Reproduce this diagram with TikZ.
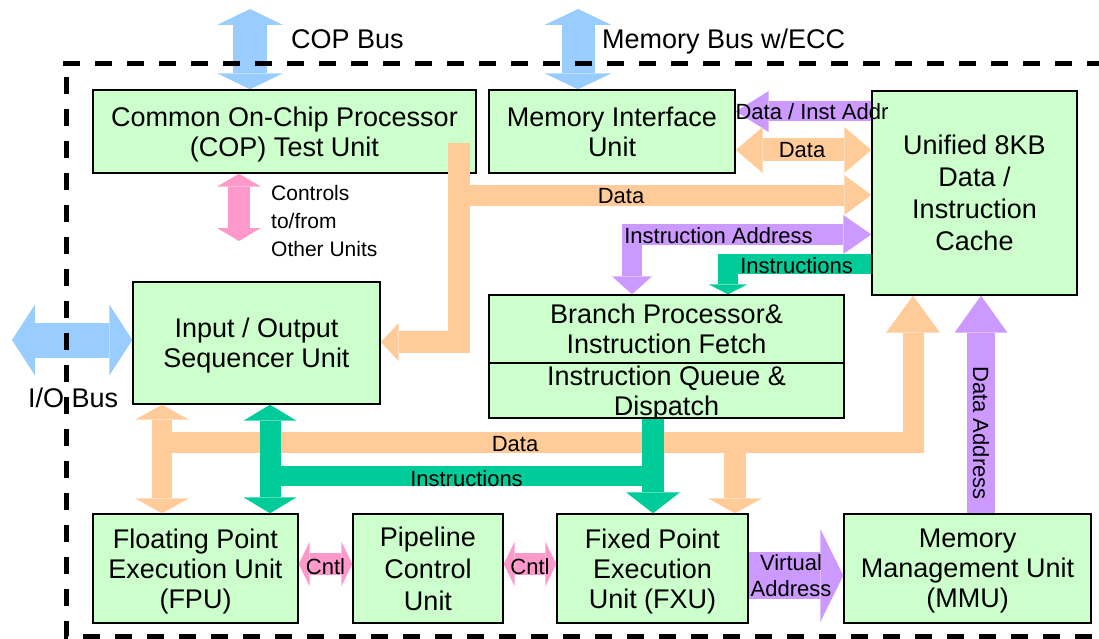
\documentclass[tikz,border=0pt]{standalone}
\usepackage{fontspec}
\setmainfont{Liberation Sans}
\usetikzlibrary{arrows.meta,calc}
\definecolor{boxfill}{HTML}{CCFFCC}
\definecolor{busblue}{HTML}{99CCFF}
\definecolor{busorange}{HTML}{FFCC99}
\definecolor{buspurple}{HTML}{CC99FF}
\definecolor{busgreen}{HTML}{00CC99}
\definecolor{buspink}{HTML}{FF99CC}

\begin{document}
\begin{tikzpicture}[x=1pt,y=-1pt,
  unit/.style={draw=black, line width=1.4pt, fill=boxfill, align=center,
    inner sep=0pt, text depth=0pt, font=\fontsize{27}{30}\selectfont},
  lbl/.style={font=\fontsize{22}{27}\selectfont, inner sep=0pt, align=center},
  buslbl/.style={font=\fontsize{27}{30}\selectfont, inner sep=0pt},
  fatone/.style n args={3}{line width=#1, line join=miter,
    -{Triangle[width=#2,length=#3,line width=0pt]}},
  fattwo/.style n args={3}{line width=#1, line join=miter,
    {Triangle[width=#2,length=#3,line width=0pt]}-{Triangle[width=#2,length=#3,line width=0pt]}},
  frame/.style={line width=5pt, dash pattern=on 17pt off 15pt}
]
\useasboundingbox (0,0) rectangle (1099,639);

% functional units
\node[unit, minimum width=383pt, minimum height=83pt] (cop) at (284.5,131.5)
  {Common On-Chip Processor\\(COP) Test Unit};
\node[unit, minimum width=246pt, minimum height=83pt] (miu) at (612,131.5)
  {Memory Interface\\Unit};
\node[unit, minimum width=205pt, minimum height=204pt,
  font=\fontsize{27}{32}\selectfont] (cache) at (974.5,193)
  {Unified 8KB\\Data /\\Instruction\\Cache};
\node[unit, minimum width=247pt, minimum height=122pt] (ios) at (256.5,343)
  {Input / Output\\Sequencer Unit};
\node[unit, minimum width=355pt, minimum height=68pt] (bpf) at (666.5,329)
  {Branch Processor\&\\Instruction Fetch};
\node[unit, minimum width=355pt, minimum height=55pt] (iqd) at (666.5,390.5)
  {Instruction Queue \&\\Dispatch};
\node[unit, minimum width=205pt, minimum height=109pt] (fpu) at (195.5,568.5)
  {Floating Point\\Execution Unit\\(FPU)};
\node[unit, minimum width=150pt, minimum height=109pt,
  font=\fontsize{27}{32}\selectfont] (pcu) at (428,568.5)
  {Pipeline\\Control\\Unit};
\node[unit, minimum width=191pt, minimum height=109pt] (fxu) at (652.5,568.5)
  {Fixed Point\\Execution\\Unit (FXU)};
\node[unit, minimum width=247pt, minimum height=109pt] (mmu) at (967.5,568.5)
  {Memory\\Management Unit\\(MMU)};

% routing points
\coordinate (copbus) at (250,9);
\coordinate (membus) at (578,9);
\coordinate (iobus) at (12,340);
\coordinate (ctl) at (239,241);
\coordinate (copdata) at (459,143);
\coordinate (iorow) at (0,342);
\coordinate (dtop) at (459,195);
\coordinate (arow) at (0,111.5);
\coordinate (mrow) at (0,150);
\coordinate (iar) at (632,234.5);
\coordinate (ir) at (728,264);
\coordinate (dbx) at (162,442);
\coordinate (dbr) at (913,442);
\coordinate (dfx) at (735,442);
\coordinate (ibx) at (270,476);
\coordinate (ibr) at (653,476);
\coordinate (cntl) at (0,564);
\coordinate (vrow) at (0,575.5);
\coordinate (dax) at (981,0);

% external buses
\draw[busblue, fattwo={34pt}{66pt}{16pt}] (copbus) -- (copbus |- cop.north);
\draw[busblue, fattwo={33pt}{67pt}{16pt}] (membus) -- (membus |- miu.north);
\draw[busblue, fattwo={35pt}{71pt}{23pt}] (iobus) -- (iobus -| ios.west);

% COP control
\draw[buspink, fattwo={22pt}{44pt}{13pt}] (ctl |- cop.south) -- (ctl);

% COP data paths
\draw[busorange, fatone={22pt}{38pt}{18pt}] (copdata) -- (copdata |- iorow) -- (iorow -| ios.east);
\draw[busorange, fatone={21pt}{40pt}{27pt}] (dtop) -- (dtop -| cache.west);

% memory interface to cache
\draw[buspurple, fatone={20pt}{41pt}{33pt}] (arow -| cache.west) -- (arow -| miu.east);
\draw[busorange, fattwo={23pt}{46pt}{27pt}] (mrow -| miu.east) -- (mrow -| cache.west);

% cache to branch unit
\draw[buspurple, line width=20.5pt, line join=miter,
  {Triangle[width=40pt,length=18pt,line width=0pt]}-{Triangle[width=39pt,length=28pt,line width=0pt]}]
  (iar |- bpf.north) -- (iar) -- (iar -| cache.west);
\draw[busgreen, fatone={20pt}{39pt}{10pt}] (ir -| cache.west) -- (ir) -- (ir |- bpf.north);

% internal data bus
\draw[busorange, fattwo={20pt}{54pt}{15pt}] (dbx |- ios.south) -- (dbx |- fpu.north);
\draw[busorange, fatone={21pt}{54pt}{37pt}] (dbx) -- (dbr) -- (dbr |- cache.south);
\draw[busorange, fatone={22pt}{54pt}{15pt}] (dfx) -- (dfx |- fxu.north);

% internal instruction bus
\draw[busgreen, fattwo={21pt}{53pt}{16pt}] (ibx |- ios.south) -- (ibx |- fpu.north);
\draw[busgreen, line width=20pt] (ibx) -- (ibr);
\draw[busgreen, fatone={22pt}{54pt}{21pt}] (ibr |- iqd.south) -- (ibr |- fxu.north);

% pipeline control
\draw[buspink, fattwo={22pt}{45pt}{11pt}] (cntl -| fpu.east) -- (cntl -| pcu.west);
\draw[buspink, fattwo={22pt}{45pt}{11pt}] (cntl -| pcu.east) -- (cntl -| fxu.west);

% address translation
\draw[buspurple, fatone={47pt}{93pt}{23pt}] (vrow -| fxu.east) -- (vrow -| mmu.west);
\draw[buspurple, fatone={28pt}{53pt}{37pt}] (dax |- mmu.north) -- (dax |- cache.south);

% bus labels
\node[buslbl, anchor=base west] (copbuslbl) at (291,49) {COP Bus};
\node[buslbl, anchor=base west] (membuslbl) at (602,49) {Memory Bus w/ECC};
\node[buslbl, anchor=base west] (iobuslbl) at (28,407) {I/O Bus};
\node[lbl, anchor=west, align=left, font=\fontsize{21}{28}\selectfont] (ctllbl) at (271,220.5)
  {Controls\\to/from\\Other Units};
\node[lbl, anchor=base] (addrlbl) at (812,120) {Data / Inst Addr};
\node[lbl, anchor=base] (mdatalbl) at (802,158) {Data};
\node[lbl, anchor=base] (cdatalbl) at (621,204) {Data};
\node[lbl, anchor=base] (iarlbl) at (718.5,243) {Instruction Address};
\node[lbl, anchor=base] (irlbl) at (796.5,273) {Instructions};
\node[lbl, anchor=base] (dbuslbl) at (515,451) {Data};
\node[lbl, anchor=base] (ibuslbl) at (466.5,486) {Instructions};
\node[lbl, anchor=base] (cntl1lbl) at (325.5,574) {Cntl};
\node[lbl, anchor=base] (cntl2lbl) at (530,574) {Cntl};
\node[lbl, font=\fontsize{22}{26}\selectfont] (valbl) at (791,576) {Virtual\\Address};
\node[lbl, rotate=-90] (dalbl) at (981,433) {Data Address};

% chip boundary
\draw[frame] (63,63.3) -- (1110,63.3);
\draw[frame, dash phase=18pt] (66,63) -- (66,636.5) -- (1110,636.5);
\end{tikzpicture}
\end{document}
